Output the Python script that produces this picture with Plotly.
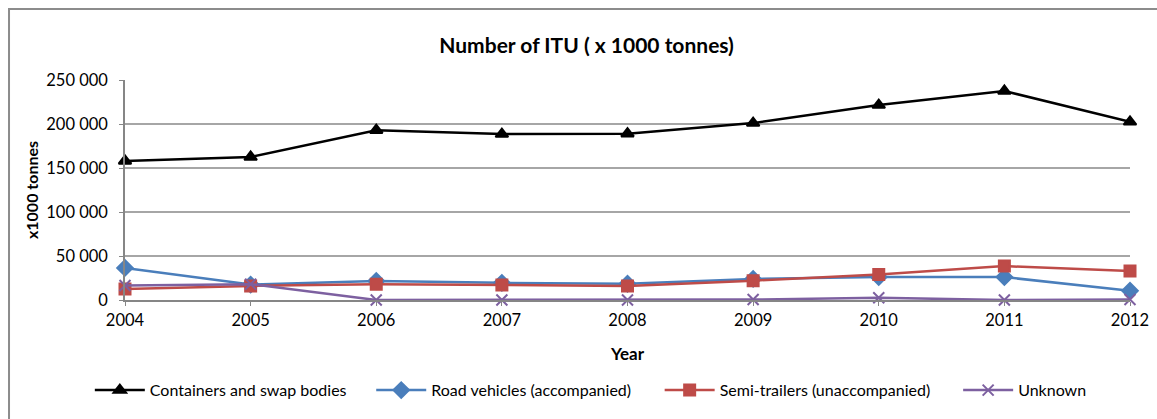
import plotly.graph_objects as go

years = [2004, 2005, 2006, 2007, 2008, 2009, 2010, 2011, 2012]

containers = [158000, 162500, 193000, 188600, 189000, 201000, 221500, 237500, 202500]
road_vehicles = [36500, 17500, 21500, 19500, 18500, 24000, 26000, 26000, 10500]
semi_trailers = [12500, 16000, 18000, 17000, 16000, 22000, 29000, 38500, 33000]
unknown = [16500, 18000, 0, 0, 0, 500, 2500, 0, 500]

y_ticks = [0, 50000, 100000, 150000, 200000, 250000]

series = [
    ("Containers and swap bodies", containers, "#000000", "triangle-up", 11),
    ("Road vehicles (accompanied)", road_vehicles, "#4A7EBB", "diamond", 12),
    ("Semi-trailers (unaccompanied)", semi_trailers, "#BE4B48", "square", 11),
    ("Unknown", unknown, "#7D60A0", "x-thin-open", 11),
]

# one legend per series so each entry sits where it does in the picture
legend_x = [-0.035, 0.245, 0.532, 0.829]

fig = go.Figure()
for i, (name, vals, col, sym, sz) in enumerate(series):
    lg = "legend" if i == 0 else f"legend{i + 1}"
    fig.add_trace(go.Scatter(
        x=years, y=vals, name=name, mode="lines+markers",
        line=dict(color=col, width=2.5),
        marker=dict(symbol=sym, size=sz, color=col, line=dict(color=col, width=2)),
        cliponaxis=False, legend=lg, showlegend=True,
    ))

# chart border (only top and left show in the picture)
fig.add_shape(type="rect", xref="paper", yref="paper",
              x0=-0.1154, x1=1.3, y0=-0.8, y1=1.3227,
              line=dict(color="#8C8C8C", width=2), layer="below")

legend_style = dict(orientation="h", xanchor="left", y=-0.41, yanchor="middle",
                    font=dict(size=16), itemwidth=50, bgcolor="rgba(0,0,0,0)")

fig.update_layout(
    width=1157, height=419,
    margin=dict(l=125, r=27, t=80, b=119, autoexpand=False),
    paper_bgcolor="white", plot_bgcolor="white",
    separators=". ",
    showlegend=True,
    font=dict(family="Lato, Open Sans, sans-serif", size=16.5, color="#000000"),
    title=dict(text="<b>Number of ITU ( x 1000 tonnes)</b>", x=0.507, xanchor="center",
               y=0.89, yanchor="middle", font=dict(size=21)),
    legend=dict(x=legend_x[0], **legend_style),
    legend2=dict(x=legend_x[1], **legend_style),
    legend3=dict(x=legend_x[2], **legend_style),
    legend4=dict(x=legend_x[3], **legend_style),
)

fig.update_xaxes(
    range=[2004, 2012], tickvals=years, showgrid=False,
    showline=True, linecolor="#868686", linewidth=1.5,
    ticks="outside", ticklen=4, tickcolor="#868686",
    title=dict(text="<b>Year</b>", standoff=20, font=dict(size=17)),
    zeroline=False, automargin=False,
)
fig.update_yaxes(
    range=[0, 250000], tickvals=y_ticks, tickformat=",d",
    showgrid=True, gridcolor="#A6A6A6", gridwidth=1.5,
    showline=True, linecolor="#868686", linewidth=1.5,
    ticks="outside", ticklen=4, tickcolor="#868686", ticklabelstandoff=8,
    title=dict(text="<b>x1000 tonnes</b>", standoff=4, font=dict(size=16)),
    zeroline=False, automargin=False,
)

fig.write_html("out.html", config={"displayModeBar": False},
               post_script="document.body.style.margin='0';")
